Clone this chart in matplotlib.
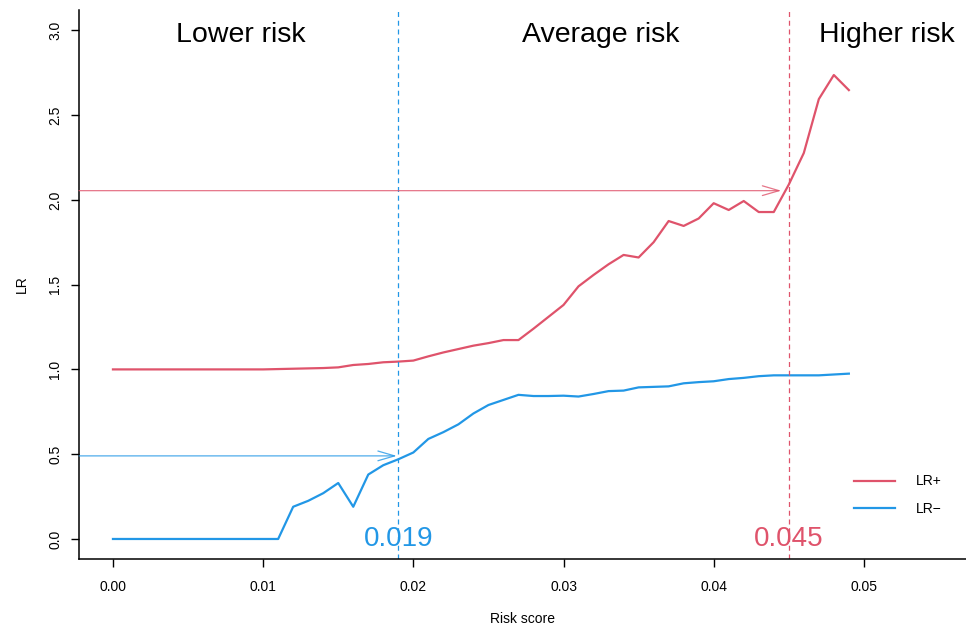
import numpy as np
import matplotlib
matplotlib.use("Agg")
from matplotlib import pyplot as plt

plt.rcParams['font.family'] = ['Liberation Sans', 'DejaVu Sans']

# risk score grid and likelihood ratios
risk = np.round(np.arange(0, 0.0495, 0.001), 3)
lr_pos = [1.0, 1.0, 1.0, 1.0, 1.0, 1.0, 1.0, 1.0, 1.0, 1.0,
          1.0, 1.002, 1.004, 1.006, 1.008, 1.012, 1.026, 1.032, 1.042, 1.046,
          1.052, 1.077, 1.10, 1.12, 1.14, 1.155, 1.173, 1.173, 1.24, 1.31,
          1.38, 1.49, 1.557, 1.62, 1.675, 1.66, 1.75, 1.875, 1.846, 1.89,
          1.98, 1.94, 1.993, 1.928, 1.928, 2.09, 2.276, 2.594, 2.736, 2.647]
lr_neg = [0.0, 0.0, 0.0, 0.0, 0.0, 0.0, 0.0, 0.0, 0.0, 0.0,
          0.0, 0.0, 0.19, 0.225, 0.27, 0.33, 0.19, 0.38, 0.435, 0.47,
          0.51, 0.59, 0.63, 0.676, 0.74, 0.79, 0.82, 0.85, 0.843, 0.843,
          0.845, 0.84, 0.855, 0.872, 0.875, 0.894, 0.897, 0.90, 0.918, 0.925,
          0.93, 0.943, 0.95, 0.96, 0.965, 0.965, 0.965, 0.965, 0.97, 0.975]

cut_low, cut_high = 0.019, 0.045
arrow_low, arrow_high = 0.49, 2.054
zones = ['Lower risk', 'Average risk', 'Higher risk']
zone_x = [0.0085, 0.0325, 0.0515]

red = '#DF536B'
blue = '#2297E6'

fig = plt.figure(figsize=(9.66, 6.29), dpi=100)
ax = fig.add_axes([0.0818, 0.1113, 0.9182, 0.8727])
xmin, xmax = -0.00226, 0.0568
ax.set_xlim(xmin, xmax)
ax.set_ylim(-0.118, 3.119)

ax.plot(risk, lr_pos, color=red, lw=1.6, label='LR+')
ax.plot(risk, lr_neg, color=blue, lw=1.6, label='LR\u2212')

# cut-off lines
ax.axvline(cut_low, color=blue, lw=0.9, ls=(0, (4, 3)))
ax.axvline(cut_high, color=red, lw=0.9, ls=(0, (4, 3)))

# arrows from the y axis to the cut-offs
ax.annotate('', xy=(cut_low - 0.0001, arrow_low), xytext=(xmin, arrow_low),
            arrowprops=dict(arrowstyle='->,head_length=1.2,head_width=0.35',
                            color=blue, lw=0.9, alpha=0.8, shrinkA=0, shrinkB=0))
ax.annotate('', xy=(cut_high - 0.0005, arrow_high), xytext=(xmin, arrow_high),
            arrowprops=dict(arrowstyle='->,head_length=1.2,head_width=0.35',
                            color=red, lw=0.9, alpha=0.8, shrinkA=0, shrinkB=0))

ax.text(cut_low, -0.075, '0.019', color=blue, fontsize=20, ha='center', va='bottom')
ax.text(cut_high, -0.075, '0.045', color=red, fontsize=20, ha='center', va='bottom')

for lab, xz in zip(zones, zone_x):
    ax.text(xz, 3.05, lab, fontsize=20.5, ha='center', va='top')

ax.set_xticks([0.0, 0.01, 0.02, 0.03, 0.04, 0.05])
ax.set_xticklabels(['0.00', '0.01', '0.02', '0.03', '0.04', '0.05'])
ax.set_yticks([0.0, 0.5, 1.0, 1.5, 2.0, 2.5, 3.0])
ax.set_yticklabels(['0.0', '0.5', '1.0', '1.5', '2.0', '2.5', '3.0'],
                   rotation=90, va='center')
ax.tick_params(length=6, width=1, labelsize=10, pad=9)
ax.tick_params(axis='y', pad=6)
ax.spines['top'].set_visible(False)
ax.spines['right'].set_visible(False)
ax.spines['left'].set_linewidth(1.1)
ax.spines['bottom'].set_linewidth(1.1)

ax.set_xlabel('Risk score', fontsize=10, labelpad=13)
ax.set_ylabel('LR', fontsize=10, labelpad=14)

ax.legend(loc='lower right', bbox_to_anchor=(0.987, 0.055), frameon=False,
          fontsize=10, handlelength=3, handletextpad=1.5, labelspacing=1.0)

fig.savefig('out.png', dpi=100)
